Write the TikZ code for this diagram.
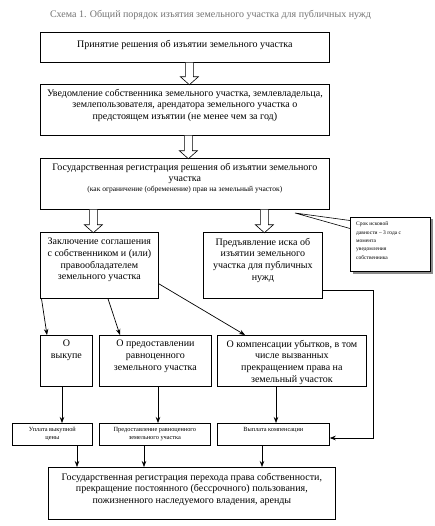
\documentclass[tikz,border=0pt]{standalone}
\usepackage{fontspec}
\setmainfont{Liberation Serif}
\usetikzlibrary{arrows.meta,calc}
\tikzset{
  box/.style={draw, line width=0.75pt, inner sep=0pt, anchor=north west},
  txt/.style={align=center, inner sep=0pt, anchor=north, font=\fontsize{10}{11.6}\selectfont},
  smalltxt/.style={align=center, inner sep=0pt, anchor=north, font=\fontsize{6.3}{8}\selectfont},
  arr/.style={-{Stealth[length=6pt,width=4.5pt]}, line width=0.7pt},
  ln/.style={line width=0.7pt},
  pics/harrow/.style={code={\draw[line width=0.6pt, fill=white] (-4,0) -- (-4,#1-8) -- (-9,#1-8) -- (0,#1) -- (9,#1-8) -- (4,#1-8) -- (4,0);}}
}
\begin{document}
\begin{tikzpicture}[x=1pt,y=-1pt]
\useasboundingbox[fill=white] (0,0) rectangle (435,526);

% title
\node[inner sep=0pt, text=black!55, font=\fontsize{10}{11}\selectfont] (title) at (210.5,15) {Схема 1. Общий порядок изъятия земельного участка для публичных нужд};

% main boxes
\node[box, minimum width=289pt, minimum height=30pt] (b1) at (40,32) {};
\node[txt] (t1) at ($(b1.north)+(0,8)$) {Принятие решения об изъятии земельного участка};

\node[box, minimum width=289pt, minimum height=51pt] (b2) at (40,84) {};
\node[txt] (t2) at ($(b2.north)+(0,5)$) {Уведомление собственника земельного участка, землевладельца,\\землепользователя, арендатора земельного участка о\\предстоящем изъятии (не менее чем за год)};

\node[box, minimum width=289pt, minimum height=51pt] (b3) at (40,158) {};
\node[txt] (t3) at ($(b3.north)+(0,5)$) {Государственная регистрация решения об изъятии земельного\\участка\\[-2.5pt]{\fontsize{7.5}{8}\selectfont (как ограничение (обременение) прав на земельный участок)}};

\node[box, minimum width=118pt, minimum height=66pt] (b4) at (40,232) {};
\node[txt] (t4) at ($(b4.north)+(0,6)$) {Заключение соглашения\\с собственником и (или)\\правообладателем\\земельного участка};

\node[box, minimum width=119pt, minimum height=66pt] (b5) at (203,232) {};
\node[txt] (t5) at ($(b5.north)+(0,6)$) {Предъявление иска об\\изъятии земельного\\участка для публичных\\нужд};

% callout
\fill[black!45] (352.5,219.5) rectangle (432.5,273.5);
\node[box, fill=white, minimum width=80pt, minimum height=54pt, line width=0.6pt] (note) at (350,217) {};
\node[inner sep=0pt, anchor=north west, align=left, font=\fontsize{5.5}{8.3}\selectfont] (tnote) at ($(note.north west)+(6,5)$) {Срок исковой\\давности – 3 года с\\момента\\уведомления\\собственника};
\coordinate (tip) at (295,213);
\draw[line width=0.6pt] (note.north west |- 0,220.5) -- (tip) -- (note.north west |- 0,228.5);

% row boxes
\node[box, minimum width=52pt, minimum height=51pt] (r1) at (40,335) {};
\node[txt] (tr1) at ($(r1.north)+(0,5)$) {О\\выкупе};
\node[box, minimum width=112pt, minimum height=51pt] (r2) at (99,335) {};
\node[txt] (tr2) at ($(r2.north)+(0,5)$) {О предоставлении\\равноценного\\земельного участка};
\node[box, minimum width=149pt, minimum height=51pt] (r3) at (217,335) {};
\node[txt] (tr3) at ($(r3.north)+(0,5)$) {О компенсации убытков, в том\\числе вызванных\\прекращением права на\\земельный участок};

% small boxes
\node[box, minimum width=80pt, minimum height=22pt] (s1) at (12,423) {};
\node[smalltxt] (ts1) at ($(s1.north)+(0,4)$) {Уплата выкупной\\цены};
\node[box, minimum width=111pt, minimum height=22pt] (s2) at (99,423) {};
\node[smalltxt] (ts2) at ($(s2.north)+(0,4)$) {Предоставление равноценного\\земельного участка};
\node[box, minimum width=112pt, minimum height=22pt] (s3) at (217,423) {};
\node[smalltxt] (ts3) at ($(s3.north)+(0,4)$) {Выплата компенсации};

% final box
\node[box, minimum width=287pt, minimum height=52pt] (fin) at (48,467) {};
\node[txt] (tf) at ($(fin.north)+(0,6)$) {Государственная регистрация перехода права собственности,\\прекращение постоянного (бессрочного) пользования,\\пожизненного наследуемого владения, аренды};

% hollow arrows
\pic at ([xshift=4.5pt]b1.south) {harrow=22};
\pic at ([xshift=3.5pt]b2.south) {harrow=23};
\pic at ([xshift=-91.5pt]b3.south) {harrow=23};
\pic at ([xshift=79.5pt]b3.south) {harrow=23};

% connectors from agreement box
\draw[arr] ([xshift=1.5pt]b4.south west) -- ([xshift=7pt]r1.north west);
\draw[arr] ([xshift=68pt]b4.south west) -- ([xshift=21pt]r2.north west);
\draw[arr] ([yshift=15pt]b4.south east) -- ([xshift=28pt]r3.north west);

% row to small
\draw[arr] ([xshift=22pt]r1.south west) -- ([xshift=50pt]s1.north west);
\draw[arr] ([xshift=59pt]r2.south west) -- ([xshift=59pt]s2.north west);
\draw[arr] ([xshift=59pt]r3.south west) -- ([xshift=59pt]s3.north west);

% small to final
\draw[arr] ([xshift=65pt]s1.south west) -- (fin.north west -| 77,0);
\draw[arr] ([xshift=45pt]s2.south west) -- (fin.north west -| 144,0);
\draw[arr] ([xshift=45pt]s3.south west) -- (fin.north west -| 262,0);

% lawsuit to compensation payment
\coordinate (c1) at (373,290);
\coordinate (c2) at (373,438);
\draw[arr] (b5.east |- c1) -- (c1) -- (c2) -- (s3.east |- c2);
\end{tikzpicture}
\end{document}
